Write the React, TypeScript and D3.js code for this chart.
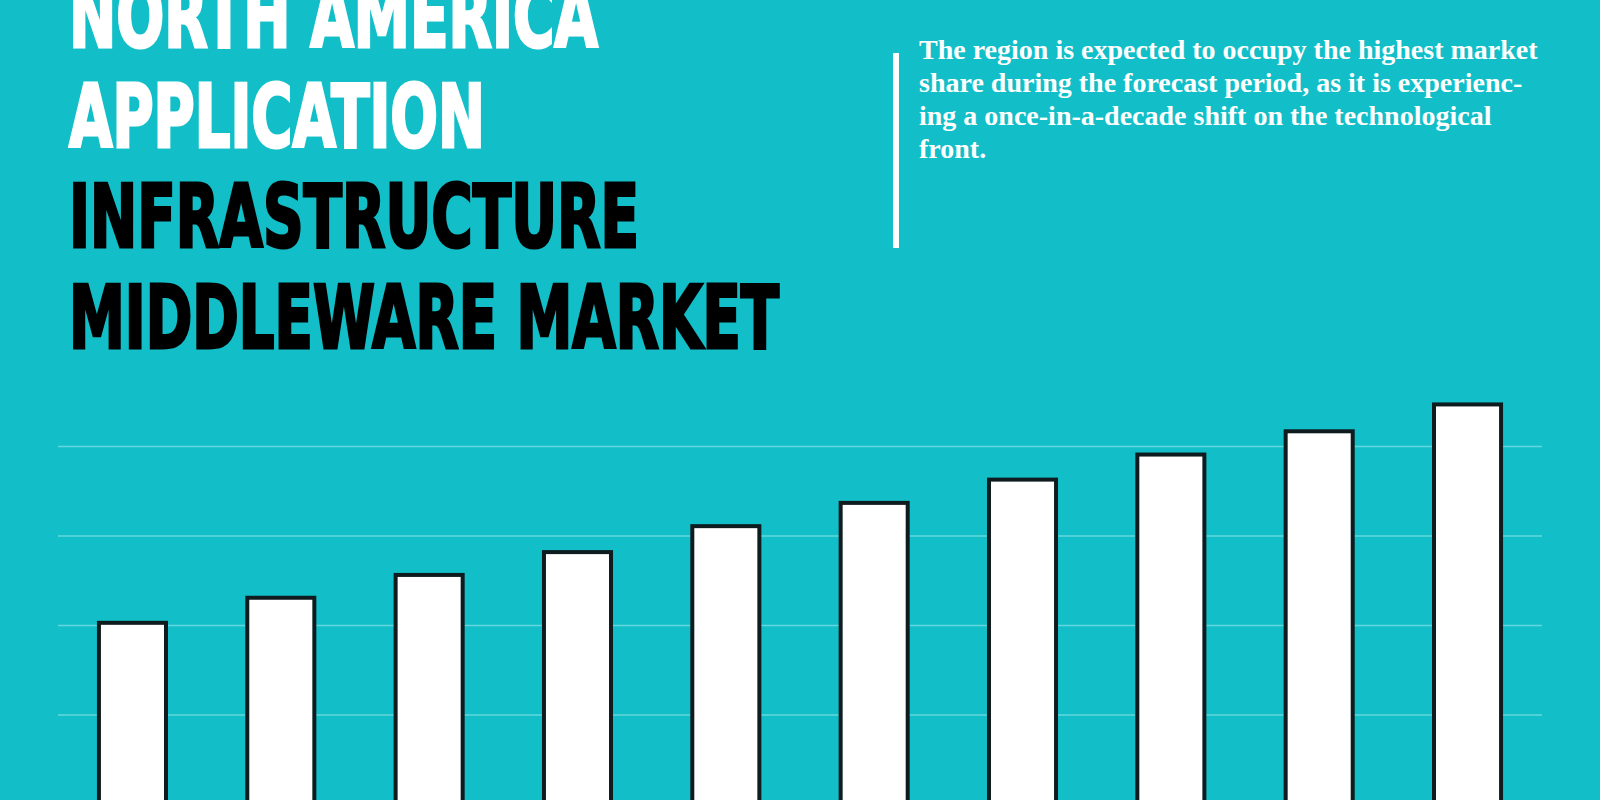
import * as d3 from 'd3'
import { useEffect, useRef } from 'react'

// market size by year (arbitrary units)
const years = ['2023', '2024', '2025', '2026', '2027', '2028', '2029', '2030', '2031', '2032']
const marketValues = [2.03, 2.31, 2.565, 2.82, 3.11, 3.37, 3.63, 3.91, 4.17, 4.47]
const gridTicks = [1, 2, 3, 4]

const titleWhite = ['NORTH AMERICA', 'APPLICATION']
const titleBlack = ['INFRASTRUCTURE', 'MIDDLEWARE MARKET']
const titleWidths = [529, 416, 570, 710]
const noteLines = [
  'The region is expected to occupy the highest market',
  'share during the forecast period, as it is experienc-',
  'ing a once-in-a-decade shift on the technological',
  'front.',
]

const W = 1600
const H = 800
const BG = '#12bfc8'

const App = () => {
  const ref = useRef<SVGSVGElement>(null)

  useEffect(() => {
    document.body.style.margin = '0'
    const svg = d3.select(ref.current)
    svg.selectAll('*').remove()

    svg.append('rect').attr('width', W).attr('height', H).attr('fill', BG)

    const x = d3.scaleBand().domain(years).range([58.3, 1541.7])
      .paddingInner(0.548).paddingOuter(0.274)
    const y = d3.scaleLinear().domain([0, 5]).range([804.5, 357])

    // gridlines
    svg.append('g').selectAll('line').data(gridTicks).enter().append('line')
      .attr('x1', 58).attr('x2', 1542)
      .attr('y1', d => y(d)).attr('y2', d => y(d))
      .attr('stroke', '#63d7dd').attr('stroke-width', 1.5)

    // bars
    svg.append('g').selectAll('rect').data(marketValues).enter().append('rect')
      .attr('x', (d, i) => x(years[i]) as number)
      .attr('y', d => y(d))
      .attr('width', x.bandwidth())
      .attr('height', d => H + 20 - y(d))
      .attr('fill', '#ffffff')
      .attr('stroke', '#0e1c1f')
      .attr('stroke-width', 4)

    // title
    const titleFont = "'Liberation Sans Narrow', 'DejaVu Sans Condensed', 'Arial Narrow', sans-serif"
    const allTitle = [...titleWhite, ...titleBlack]
    const baselines = [46.5, 147, 247, 347.5]
    svg.append('g').selectAll('text').data(allTitle).enter().append('text')
      .attr('x', 69)
      .attr('y', (d, i) => baselines[i])
      .attr('textLength', (d, i) => titleWidths[i])
      .attr('lengthAdjust', 'spacingAndGlyphs')
      .attr('font-family', titleFont)
      .attr('font-weight', 'bold')
      .attr('font-size', 87)
      .attr('fill', (d, i) => i < titleWhite.length ? '#ffffff' : '#000000')
      .attr('stroke', (d, i) => i < titleWhite.length ? '#ffffff' : '#000000')
      .attr('stroke-width', 3)
      .attr('stroke-linejoin', 'miter')
      .text(d => d)

    // side note
    svg.append('rect').attr('x', 893).attr('y', 53).attr('width', 6).attr('height', 195).attr('fill', '#ffffff')
    svg.append('g').selectAll('text').data(noteLines).enter().append('text')
      .attr('x', 919)
      .attr('y', (d, i) => 59 + i * 33)
      .attr('font-family', "'Liberation Serif', 'Times New Roman', serif")
      .attr('font-weight', 'bold')
      .attr('font-size', 28)
      .attr('fill', '#ffffff')
      .text(d => d)
  }, [])

  return <svg ref={ref} width={W} height={H} style={{ display: 'block' }} />
}

export default App
